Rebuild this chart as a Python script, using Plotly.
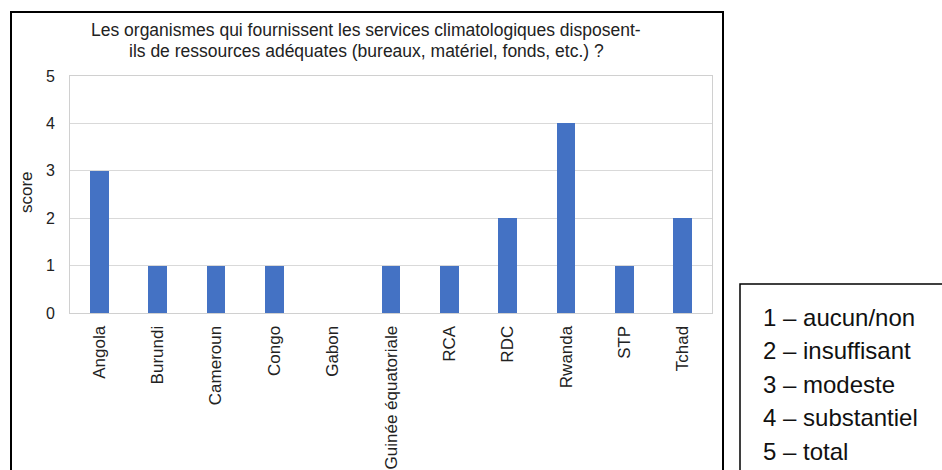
import plotly.graph_objects as go

# Scores by country
countries = ["Angola", "Burundi", "Cameroun", "Congo", "Gabon", "Guinée équatoriale",
             "RCA", "RDC", "Rwanda", "STP", "Tchad"]
scores = [3, 1, 1, 1, 0, 1, 1, 2, 4, 1, 2]

y_ticks = [0, 1, 2, 3, 4, 5]
scale_labels = ["1 – aucun/non", "2 – insuffisant", "3 – modeste", "4 – substantiel", "5 – total"]

title_lines = ["Les organismes qui fournissent les services climatologiques disposent-",
               "ils de ressources adéquates (bureaux, matériel, fonds, etc.) ?"]

W, H = 942, 470
L, R, T, B = 70, 230, 76, 157
pw, ph = W - L - R, H - T - B


def px_x(px):
    return (px - L) / pw


def px_y(py):
    return (H - B - py) / ph


FONT = "Liberation Sans, Arial, sans-serif"

fig = go.Figure(go.Bar(
    x=countries, y=scores, width=0.32,
    marker=dict(color="#4472C4", line=dict(width=0)),
))

fig.update_layout(
    width=W, height=H,
    margin=dict(l=L, r=R, t=T, b=B, autoexpand=False),
    paper_bgcolor="white", plot_bgcolor="white",
    font=dict(family=FONT, color="#222"),
    showlegend=False,
    bargap=0,
)

fig.update_xaxes(
    tickangle=-90, tickfont=dict(size=17, color="#222"),
    showgrid=False, showline=True, linecolor="#d0d0d0", linewidth=1, mirror=True,
    ticks="outside", ticklen=5, tickcolor="rgba(0,0,0,0)",
    automargin=False, fixedrange=True,
)
fig.update_yaxes(
    range=[0, 5], tickvals=y_ticks, tickfont=dict(size=16, color="#222"),
    showgrid=True, gridcolor="#d9d9d9", gridwidth=1,
    showline=True, linecolor="#d0d0d0", linewidth=1, mirror=True,
    zeroline=False,
    ticks="outside", ticklen=11, tickcolor="rgba(0,0,0,0)",
    automargin=False, fixedrange=True,
)

shapes = [
    # outer frame of the chart
    dict(type="rect", xref="paper", yref="paper",
         x0=px_x(11), x1=px_x(723), y0=px_y(480), y1=px_y(12),
         line=dict(color="black", width=2), fillcolor="rgba(0,0,0,0)"),
    # score scale box
    dict(type="rect", xref="paper", yref="paper",
         x0=px_x(740), x1=px_x(950), y0=px_y(480), y1=px_y(284),
         line=dict(color="black", width=1.5), fillcolor="rgba(0,0,0,0)"),
]

annotations = []
for i, line in enumerate(title_lines):
    annotations.append(dict(
        text=line, xref="paper", yref="paper", x=px_x(366), y=px_y(30 + 21 * i),
        xanchor="center", yanchor="middle", showarrow=False,
        font=dict(size=17.5, color="#222", family=FONT),
    ))

annotations.append(dict(
    text="score", xref="paper", yref="paper", x=px_x(26), y=px_y(192),
    xanchor="center", yanchor="middle", textangle=-90, showarrow=False,
    font=dict(size=17, color="#222", family=FONT),
))

for i, lab in enumerate(scale_labels):
    annotations.append(dict(
        text=lab, xref="paper", yref="paper", x=px_x(761), y=px_y(317 + 33.5 * i),
        xanchor="left", yanchor="middle", showarrow=False,
        font=dict(size=24, color="#111", family=FONT),
    ))

fig.update_layout(shapes=shapes, annotations=annotations)

fig.write_html("out.html")
